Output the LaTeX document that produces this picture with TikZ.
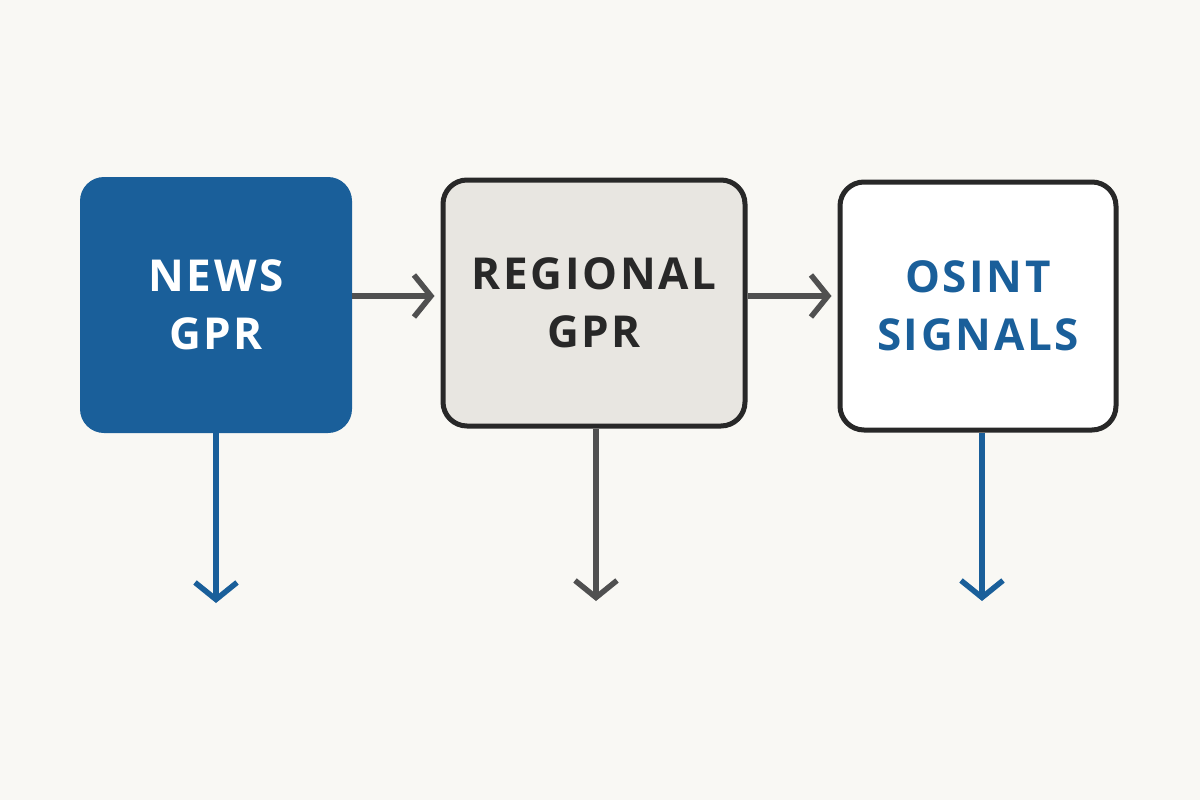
\documentclass[tikz,border=0pt]{standalone}
\usepackage{fontspec}
\setmainfont{Open Sans}
\usetikzlibrary{arrows.meta}
\definecolor{bgcol}{RGB}{249,248,244}
\definecolor{newsblue}{RGB}{26,95,154}
\definecolor{boxgray}{RGB}{232,230,225}
\definecolor{linegray}{RGB}{80,80,80}
\definecolor{edgedark}{RGB}{40,40,40}
\tikzset{
  stagebox/.style={rounded corners=24pt,minimum width=#1,minimum height=250pt,inner sep=0pt,align=center,
    font=\fontsize{44}{58}\selectfont\bfseries\addfontfeatures{LetterSpace=6}},
  flow/.style={line width=5.5pt,shorten >=6pt,-{Straight Barb[length=17pt,width=42pt,line width=5.5pt]}}
}
\begin{document}
\begin{tikzpicture}[x=1pt,y=1pt,yscale=-1,xscale=1]
%background
\fill[bgcol] (0,0) rectangle (1200,800);
\useasboundingbox (0,0) rectangle (1200,800);

% Boxes
\node (news) [stagebox=272pt,fill=newsblue,text=white,minimum height=256pt] at (216,305) {NEWS\\GPR};
\node (regional) [stagebox=302pt,fill=boxgray,draw=edgedark,line width=5pt,text=edgedark,minimum height=246pt] at (594,303) {REGIONAL\\GPR};
\node (osint) [stagebox=276pt,fill=white,draw=edgedark,line width=5pt,text=newsblue,minimum height=248pt] at (978,306) {OSINT\\SIGNALS};

% Downward outputs
\coordinate (newsout) at (216,609);
\coordinate (regout) at (596,607);
\coordinate (osintout) at (982,607);

% Connectors
\draw[flow,linegray] (news.east |- 0,296) -- (regional.west |- 0,296);
\draw[flow,linegray] (regional.east |- 0,296) -- (osint.west |- 0,296);
\draw[flow,newsblue] (news.south -| newsout) -- (newsout);
\draw[flow,linegray] (regional.south -| regout) -- (regout);
\draw[flow,newsblue] (osint.south -| osintout) -- (osintout);

\end{tikzpicture}
\end{document}
